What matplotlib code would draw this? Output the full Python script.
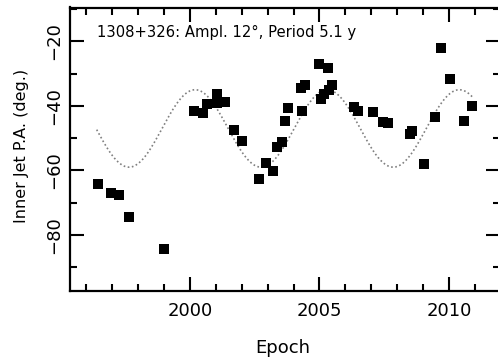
import numpy as np
import matplotlib
matplotlib.use("Agg")
import matplotlib.pyplot as plt
from matplotlib.ticker import MultipleLocator

plt.rcParams['font.family'] = ['DejaVu Sans']

# measured inner-jet position angles (deg) vs epoch
epoch = [1996.46, 1996.96, 1997.27, 1997.66, 1999.00,
         2000.15, 2000.49, 2000.64, 2001.03, 2001.03, 2001.35,
         2001.70, 2002.00, 2002.66, 2002.92, 2003.20, 2003.35,
         2003.54, 2003.66, 2003.78, 2004.31, 2004.27, 2004.44,
         2004.98, 2005.34, 2005.06, 2005.19, 2005.38, 2005.50,
         2006.34, 2006.47, 2007.08, 2007.46, 2007.66, 2008.49,
         2008.58, 2009.05, 2009.46, 2009.68, 2010.04, 2010.59, 2010.88]
pa = [-64.2, -67.1, -67.7, -74.4, -84.4,
      -41.6, -42.1, -39.5, -36.2, -39.2, -38.7,
      -47.6, -51.0, -62.6, -57.8, -60.1, -52.6,
      -51.1, -44.6, -40.7, -41.5, -34.5, -33.5,
      -27.0, -28.2, -37.9, -36.4, -35.0, -33.5,
      -40.2, -41.5, -42.0, -44.9, -45.4, -48.7,
      -47.7, -58.0, -43.3, -22.1, -31.7, -44.6, -40.0]

# precession model quoted in the panel label
source = "1308+326"
ampl = 12.0        # deg
period = 5.1       # yr
mean_pa = -47.0    # deg
t_peak = 2000.2
model_t = np.linspace(1996.4, 2010.9, 300)
model_pa = mean_pa + ampl * np.cos(2 * np.pi * (model_t - t_peak) / period)

fig = plt.figure(figsize=(4.98, 3.59), dpi=100)
ax = fig.add_axes([70 / 498, 1 - 291 / 359, 430 / 498, 283.5 / 359])

ax.plot(model_t, model_pa, linestyle=(0, (1, 1.5)), color='0.5', linewidth=1.2)
ax.plot(epoch, pa, 's', color='black', markersize=6.8, markeredgewidth=0)

ax.set_xlim(1995.37, 2011.97)
ax.set_ylim(-97.4, -9.5)

ax.xaxis.set_major_locator(MultipleLocator(5))
ax.xaxis.set_minor_locator(MultipleLocator(1))
ax.yaxis.set_major_locator(MultipleLocator(20))
ax.yaxis.set_minor_locator(MultipleLocator(10))
ax.tick_params(which='both', direction='in', top=True, right=True, width=1.5,
               labelsize=13, colors='black')
ax.tick_params(which='major', length=10)
ax.tick_params(which='minor', length=5)
ax.tick_params(axis='x', which='major', pad=8)
ax.tick_params(axis='y', which='major', pad=5)
for lab in ax.get_yticklabels():
    lab.set_rotation(90)
    lab.set_va('center')
for s in ax.spines.values():
    s.set_linewidth(1.6)

ax.set_xlabel("Epoch", fontsize=13, va='center')
ax.xaxis.set_label_coords(0.495, -0.201)
ax.set_ylabel("Inner Jet P.A. (deg.)", fontsize=11.5, va='center')
ax.yaxis.set_label_coords(-0.112, 0.511)

ax.text(0.063, 0.913, f"{source}: Ampl. {ampl:.0f}°, Period {period} y",
        transform=ax.transAxes, fontsize=10.6, va='center', ha='left')

fig.savefig("out.png", dpi=100)
